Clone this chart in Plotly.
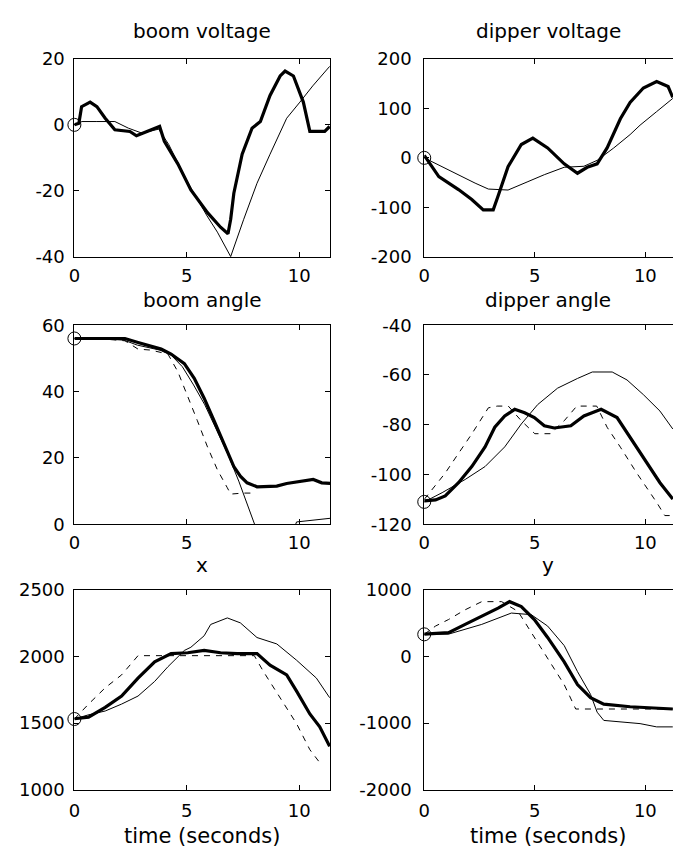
import plotly.graph_objects as go

# ---------------- data ----------------
# boom voltage
bv_thick_t = [0, 0.2, 0.32, 0.7, 1.0, 1.37, 1.8, 2.47, 2.76, 3.27, 3.79, 4.0, 4.6, 5.18, 5.92, 6.5, 6.83, 6.95, 7.09, 7.46, 7.9, 8.27, 8.7, 9.15, 9.37, 9.74, 10.18, 10.47, 10.8, 11.13, 11.35]
bv_thick_v = [0, 0.5, 5.5, 6.9, 5.5, 2, -1.5, -2, -3.3, -2, -0.5, -5, -11.8, -19.7, -26.6, -31, -33, -28.6, -20.7, -8.9, -1, 1, 8.9, 14.8, 16.3, 14.8, 6.9, -2, -2, -2, -0.5]
bv_thin_t = [0, 0.34, 1.0, 1.8, 2.4, 3.0, 3.75, 4.2, 5.0, 5.9, 6.36, 6.95, 7.53, 8.12, 8.7, 9.44, 10.03, 10.6, 11.35]
bv_thin_v = [0, 1, 1, 1, -1, -2.5, -1.3, -6, -17, -27.6, -32.5, -39.9, -28.6, -17.7, -8.9, 2, 6.9, 11.8, 17.7]

# dipper voltage
dv_thick_t = [0, 0.36, 0.66, 1.55, 2.15, 2.67, 3.12, 3.34, 3.79, 4.39, 4.91, 5.58, 6.33, 6.93, 7.37, 7.82, 8.27, 8.87, 9.31, 9.91, 10.51, 11.03, 11.24]
dv_thick_v = [5, -18, -38, -64, -84, -105, -105, -77, -18, 27, 40, 20, -12, -31, -19, -12, 20, 79, 112, 141, 154, 144, 122]
dv_thin_t = [0, 1.1, 2.3, 2.9, 3.79, 4.69, 5.43, 6.33, 7.22, 7.82, 8.57, 9.31, 9.76, 10.5, 11.24]
dv_thin_v = [0, -25, -51, -63, -65, -48, -34, -19, -17, -5, 20, 47, 66, 93, 120]

# boom angle
ba_thick_t = [0, 1.0, 2.25, 2.83, 3.86, 4.3, 4.89, 5.33, 5.77, 6.21, 6.65, 7.09, 7.38, 7.68, 8.12, 9.0, 9.44, 10.0, 10.62, 11.0, 11.37]
ba_thick_v = [56, 56, 56, 54.8, 52.8, 51.3, 48.4, 44, 38, 31.2, 24.3, 17.4, 14.5, 12.5, 11.3, 11.5, 12.3, 12.8, 13.5, 12.5, 12.3]
ba_thin_t = [0, 1.0, 2.2, 2.8, 3.8, 4.3, 4.8, 5.3, 5.8, 6.3, 6.8, 7.31, 7.97, 8.5, 9.0, 9.5, 9.88, 10.47, 11.2, 11.37]
ba_thin_v = [56, 56, 55.5, 54, 52.5, 51, 47.5, 42, 36, 29, 21.5, 13, 0.7, -9, -12, -6, 0.7, 1.1, 1.7, 1.8]
ba_dash_t = [0, 1.0, 2.25, 2.83, 3.4, 4.16, 4.6, 4.96, 5.47, 5.92, 6.36, 6.8, 6.95, 7.5, 7.97]
ba_dash_v = [56, 56, 55.3, 52.8, 52.5, 51.3, 46, 40, 31.2, 23.3, 16.4, 11, 9.1, 9.4, 9.4]

# dipper angle
da_thick_t = [0, 0.51, 0.95, 1.55, 2.15, 2.75, 3.19, 3.64, 4.09, 4.54, 4.98, 5.43, 5.88, 6.63, 7.22, 8.0, 8.72, 9.31, 9.91, 10.66, 11.24]
da_thick_v = [-110.6, -110.2, -108.6, -103.3, -96.8, -88.9, -81, -76.5, -73.8, -75.2, -77.1, -80.4, -81.3, -80.4, -76.5, -73.8, -77.1, -85, -92.9, -103.3, -109.9]
da_thin_t = [0, 0.81, 1.85, 2.75, 3.64, 4.39, 5.13, 6.03, 6.93, 7.6, 8.5, 9.17, 9.91, 10.66, 11.24]
da_thin_v = [-111, -107.3, -102, -96.8, -88.9, -79.7, -71.9, -65.3, -61.4, -58.8, -58.8, -62, -67.9, -74.5, -81.7]
da_dash_t = [0, 0.36, 0.95, 1.55, 2.15, 2.9, 3.3, 3.8, 4.39, 5.0, 5.7, 6.33, 6.9, 7.8, 8.27, 8.87, 9.61, 10.51, 10.88, 11.24]
da_dash_v = [-110, -106, -99.4, -91.5, -83.7, -73.2, -72.5, -72.5, -78.4, -83.6, -83.6, -78.4, -72.5, -72.5, -81, -89, -99.4, -111.2, -116.5, -116.5]

# x
x_thick_t = [0, 0.63, 1.37, 2.1, 2.83, 3.57, 4.3, 5.04, 5.77, 6.5, 7.24, 8.12, 8.7, 9.44, 9.88, 10.47, 10.91, 11.35]
x_thick_v = [1532, 1544, 1617, 1702, 1837, 1959, 2020, 2027, 2044, 2027, 2020, 2020, 1934, 1861, 1739, 1568, 1471, 1325]
x_thin_t = [0, 0.6, 1.37, 2.1, 2.83, 3.57, 4.16, 4.89, 5.18, 5.77, 6.06, 6.8, 7.38, 8.12, 9.0, 9.88, 10.76, 11.35]
x_thin_v = [1530, 1560, 1590, 1642, 1702, 1812, 1922, 2044, 2068, 2154, 2239, 2288, 2251, 2141, 2093, 1971, 1837, 1690]
x_dash_t = [0, 0.63, 1.37, 2.1, 2.83, 4.0, 5.5, 7.0, 8.0, 8.41, 9.15, 9.88, 10.47, 10.91]
x_dash_v = [1530, 1642, 1764, 1861, 2005, 2005, 2005, 2005, 2005, 1885, 1690, 1495, 1300, 1203]

# y
y_thick_t = [0, 1.1, 1.85, 2.6, 3.34, 3.86, 4.39, 4.98, 5.58, 6.33, 6.93, 7.52, 8.12, 9.31, 11.24]
y_thick_v = [333, 356, 479, 600, 722, 820, 747, 552, 283, -83, -424, -619, -717, -756, -790]
y_thin_t = [0, 1.1, 2.6, 3.94, 4.84, 5.58, 6.33, 6.93, 7.52, 7.82, 8.12, 9.0, 9.76, 10.51, 11.24]
y_thin_v = [330, 333, 479, 649, 625, 454, 161, -229, -570, -838, -961, -985, -1009, -1058, -1058]
y_dash_t = [0, 0.51, 1.1, 1.85, 2.6, 3.5, 4.24, 4.84, 5.58, 6.33, 6.85, 11.24]
y_dash_v = [330, 454, 552, 698, 820, 820, 674, 356, -34, -424, -790, -790]

# initial points (circles)
start_v = [0, 0, 56, -111, 1530, 330]

titles = ["boom voltage", "dipper voltage", "boom angle", "dipper angle", "x", "y"]
xlabel = "time (seconds)"

x_ticks = [0, 5, 10]
x_ticklabels = ["0", "5", "10"]
y_ticks = [
    [-40, -20, 0, 20],
    [-200, -100, 0, 100, 200],
    [0, 20, 40, 60],
    [-120, -100, -80, -60, -40],
    [1000, 1500, 2000, 2500],
    [-2000, -1000, 0, 1000],
]
y_ticklabels = [[str(v) for v in tk] for tk in y_ticks]
y_ranges = [[-40, 20], [-200, 200], [0, 60], [-120, -40], [1000, 2500], [-2000, 1000]]

# ---------------- figure ----------------
W, H = 673, 868
col_px = [(69, 327), (422, 673)]
row_px = [(49, 252), (322, 526), (593, 798)]
x_ranges = [[0, 11.37], [0, 11.25]]

panels = [
    [(bv_thick_t, bv_thick_v), (bv_thin_t, bv_thin_v), None],
    [(dv_thick_t, dv_thick_v), (dv_thin_t, dv_thin_v), None],
    [(ba_thick_t, ba_thick_v), (ba_thin_t, ba_thin_v), (ba_dash_t, ba_dash_v)],
    [(da_thick_t, da_thick_v), (da_thin_t, da_thin_v), (da_dash_t, da_dash_v)],
    [(x_thick_t, x_thick_v), (x_thin_t, x_thin_v), (x_dash_t, x_dash_v)],
    [(y_thick_t, y_thick_v), (y_thin_t, y_thin_v), (y_dash_t, y_dash_v)],
]

fig = go.Figure()
FONT = "DejaVu Sans"
layout = dict(
    width=W, height=H,
    margin=dict(l=0, r=0, t=0, b=0),
    paper_bgcolor="white", plot_bgcolor="white",
    showlegend=False,
    font=dict(family=FONT, size=18, color="black"),
)
annotations = []

for i in range(6):
    r, c = divmod(i, 2)
    sfx = "" if i == 0 else str(i + 1)
    xa, ya = "x" + sfx, "y" + sfx
    thick, thin, dash = panels[i]
    fig.add_trace(go.Scatter(x=thick[0], y=thick[1], mode="lines", xaxis=xa, yaxis=ya,
                             line=dict(color="black", width=3.2)))
    fig.add_trace(go.Scatter(x=thin[0], y=thin[1], mode="lines", xaxis=xa, yaxis=ya,
                             line=dict(color="black", width=1)))
    if dash is not None:
        fig.add_trace(go.Scatter(x=dash[0], y=dash[1], mode="lines", xaxis=xa, yaxis=ya,
                                 line=dict(color="black", width=1, dash="6px,6px")))
    fig.add_trace(go.Scatter(x=[0], y=[start_v[i]], mode="markers", xaxis=xa, yaxis=ya,
                             cliponaxis=False,
                             marker=dict(symbol="circle-open", size=13, color="black",
                                         line=dict(width=1, color="black"))))
    x0, x1 = col_px[c]
    y0, y1 = row_px[r]
    layout["xaxis" + sfx] = dict(
        domain=[x0 / W, x1 / W], anchor=ya, range=x_ranges[c],
        tickvals=x_ticks, ticktext=x_ticklabels,
        showline=True, linecolor="black", linewidth=1, mirror="ticks",
        ticks="inside", ticklen=5, tickcolor="black", tickwidth=1,
        showgrid=False, zeroline=False, ticklabelstandoff=2 if r < 2 else 5,
        tickfont=dict(family=FONT, size=18, color="black"),
    )
    layout["yaxis" + sfx] = dict(
        domain=[(H - y1) / H, (H - y0) / H], anchor=xa, range=y_ranges[i],
        tickvals=y_ticks[i], ticktext=y_ticklabels[i],
        showline=True, linecolor="black", linewidth=1,
        mirror="ticks" if c == 0 else False,
        ticks="inside", ticklen=5, tickcolor="black", tickwidth=1,
        showgrid=False, zeroline=False, ticklabelstandoff=5 if c == 0 else 8,
        tickfont=dict(family=FONT, size=18, color="black"),
    )
    title_y = [20, 296, 568][r]
    title_x = [198, 547][c]
    annotations.append(dict(text=titles[i], xref="paper", yref="paper",
                            x=title_x / W, y=(H - title_y) / H,
                            xanchor="center", yanchor="middle", showarrow=False,
                            borderpad=0,
                            font=dict(family=FONT, size=20, color="black")))
    if r == 2:
        annotations.append(dict(text=xlabel, xref="paper", yref="paper",
                                x=title_x / W, y=(H - 845) / H,
                                xanchor="center", yanchor="middle", showarrow=False,
                                borderpad=0,
                                font=dict(family=FONT, size=21, color="black")))

layout["annotations"] = annotations
fig.update_layout(**layout)
fig.write_html("out.html")
